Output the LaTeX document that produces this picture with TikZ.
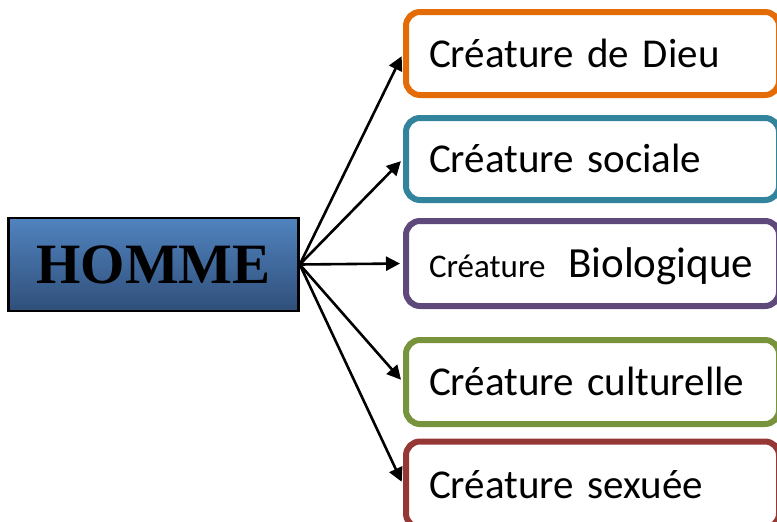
\documentclass[tikz,border=0pt]{standalone}
\usepackage{fontspec}
\newfontfamily\carlito{Carlito}
\newfontfamily\tnr{Liberation Serif}
\usetikzlibrary{arrows.meta}
\definecolor{cOrange}{HTML}{E36C09}
\definecolor{cTeal}{HTML}{31849B}
\definecolor{cPurple}{HTML}{5F497A}
\definecolor{cGreen}{HTML}{77933C}
\definecolor{cRed}{HTML}{953735}
\definecolor{hTop}{HTML}{5083BF}
\definecolor{hBot}{HTML}{304F7A}
\tikzset{
  cbox/.style={draw=#1, line width=6pt, rounded corners=14pt, fill=white,
    anchor=west, minimum width=373pt, text width=327pt, inner xsep=23pt,
    align=left, text height=27pt, text depth=0pt,
    font=\carlito\fontsize{41}{42}\selectfont},
  arr/.style={line width=2.6pt, -{Triangle[length=14pt,width=14pt]}, shorten >=3pt},
  homme/.style={draw=black, line width=2.5pt, top color=hTop, bottom color=hBot,
    minimum width=290pt, minimum height=93pt,
    font=\tnr\bfseries\fontsize{57}{60}\selectfont}
}
\begin{document}
\begin{tikzpicture}[x=1pt,y=-1pt]
\useasboundingbox (0,0) rectangle (777,522);
\clip (0,0) rectangle (777,522);
\node[homme] (h) at (153.5,264.5) {HOMME};
\node[cbox=cOrange, minimum height=83pt] (b1) at (403,53.5) {Créature de Dieu};
\node[cbox=cTeal, minimum height=82pt] (b2) at (403,159) {Créature sociale};
\node[cbox=cPurple, minimum height=85pt] (b3) at (403,263.5) {{\fontsize{33}{34}\selectfont Créature}\kern9pt\ {\fontsize{43}{44}\selectfont Biologique}};
\node[cbox=cGreen, minimum height=84pt] (b4) at (403,382) {Créature culturelle};
\node[cbox=cRed, minimum height=86pt] (b5) at (403,484.5) {Créature sexuée};
\foreach \b in {b1,b2,b3,b4,b5}
  \draw[arr] (h.east) -- (\b.west);
\end{tikzpicture}
\end{document}
